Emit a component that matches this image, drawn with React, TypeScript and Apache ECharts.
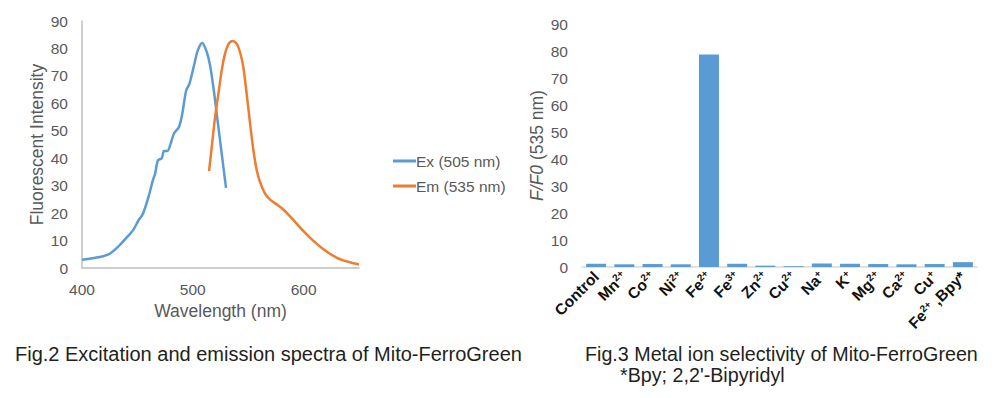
import React, { useEffect, useRef } from "react";
import * as echarts from "echarts";

// Fig.2 spectra
const exWavelength = [400, 416, 425, 434, 440, 446, 451, 455, 460, 464, 466, 468.5, 472, 474, 477, 480, 483, 487.5, 490.5, 494, 497, 501.5, 504.5, 508.5, 512.6, 515.6, 518.6, 521.6, 524.6, 527.6, 530];
const exIntensity = [3.0, 4.0, 5.2, 8.3, 11, 13.7, 17.4, 19.8, 25.9, 32, 34.4, 39.2, 40, 42.6, 42.6, 45.3, 49, 51.4, 56.2, 64.7, 67.2, 74.5, 79.3, 82, 78.7, 73.8, 65.8, 56.2, 46.5, 36.8, 29.2];
const emWavelength = [514.7, 517.1, 520.1, 523.1, 526.1, 529.1, 532.1, 535.7, 539.6, 542.6, 545.6, 548.6, 551.7, 554.7, 557.7, 560.7, 565.2, 569.7, 575.7, 581.7, 587.7, 593.7, 599.7, 605.7, 611.7, 617.7, 623.7, 629.7, 635.7, 641.7, 650];
const emIntensity = [35.3, 44.1, 55, 63.5, 72, 78.1, 81.5, 82.7, 81.7, 78.7, 73.2, 63.5, 52.6, 42.9, 35.6, 31.3, 27.1, 24.9, 23.2, 21.3, 18.8, 16.2, 13.5, 11.1, 8.9, 6.9, 5.2, 3.8, 2.8, 2.1, 1.3];
const seriesNames = ["Ex (505 nm)", "Em (535 nm)"];

// Fig.3 selectivity
const ions = ["Control", "Mn2+", "Co2+", "Ni2+", "Fe2+", "Fe3+", "Zn2+", "Cu2+", "Na+", "K+", "Mg2+", "Ca2+", "Cu+", "Fe2+ ,Bpy*"];
const ratio = [1.2, 1.0, 1.1, 1.0, 78.7, 1.2, 0.5, 0.3, 1.3, 1.2, 1.1, 1.0, 1.1, 1.8];

const caption2 = "Fig.2 Excitation and emission spectra of Mito-FerroGreen";
const caption3a = "Fig.3 Metal ion selectivity of Mito-FerroGreen";
const caption3b = "*Bpy; 2,2'-Bipyridyl";

const FONT = "'Liberation Sans', Arial, sans-serif";
const GRAY = "#595959";

export default function App() {
  const ref = useRef<HTMLDivElement>(null);
  useEffect(() => {
    if (!ref.current) return;
    const chart = echarts.init(ref.current, null, { renderer: "svg" });
    const ex = exWavelength.map((x, i) => [x, exIntensity[i]]);
    const em = emWavelength.map((x, i) => [x, emIntensity[i]]);
    const ionFormatter = (v: string) => {
      const m = v.match(/^([A-Za-z]+)(\d*\+)?(.*)$/);
      if (!m) return `{b|${v}}`;
      return `{b|${m[1]}}` + (m[2] ? `{s|${m[2]}}` : "") + (m[3] ? `{b|${m[3]}}` : "");
    };
    chart.setOption({
      animation: false,
      backgroundColor: "#ffffff",
      textStyle: { fontFamily: FONT },
      legend: {
        left: 388,
        top: 148,
        orient: "vertical",
        itemWidth: 23,
        itemHeight: 3,
        itemGap: 9,
        icon: "rect",
        data: seriesNames,
        textStyle: { color: GRAY, fontSize: 15.5, fontFamily: FONT, padding: [0, 0, 0, -5] },
      },
      grid: [
        { left: 82, top: 21, width: 277, height: 247 },
        { left: 582, top: 24, width: 395, height: 243 },
      ],
      xAxis: [
        {
          gridIndex: 0,
          type: "value",
          min: 400,
          max: 650,
          interval: 100,
          name: "Wavelength (nm)",
          nameLocation: "middle",
          nameGap: 33,
          nameTextStyle: { color: GRAY, fontSize: 17.5, fontFamily: FONT },
          axisLine: { show: true, lineStyle: { color: "#bfbfbf", width: 1.5 } },
          axisTick: { show: false },
          splitLine: { show: false },
          axisLabel: {
            color: GRAY,
            fontSize: 15.5,
            margin: 13,
            formatter: (v: number) => (v % 100 === 0 ? String(v) : ""),
          },
        },
        {
          gridIndex: 1,
          type: "category",
          data: ions,
          axisLine: { show: true, lineStyle: { color: "#d9d9d9", width: 1.5 } },
          axisTick: { show: false },
          axisLabel: {
            interval: 0,
            rotate: 45,
            margin: 7,
            formatter: ionFormatter,
            rich: {
              b: { fontSize: 15.5, fontWeight: "bold", color: "#111", fontFamily: FONT, lineHeight: 17 },
              s: { fontSize: 10, fontWeight: "bold", color: "#111", fontFamily: FONT, verticalAlign: "top", lineHeight: 17 },
            },
          },
        },
      ],
      yAxis: [
        {
          gridIndex: 0,
          type: "value",
          min: 0,
          max: 90,
          interval: 10,
          name: "Fluorescent Intensity",
          nameLocation: "middle",
          nameGap: 36,
          nameTextStyle: { color: GRAY, fontSize: 17.5, fontFamily: FONT },
          axisLine: { show: true, lineStyle: { color: "#bfbfbf", width: 1.5 } },
          axisTick: { show: false },
          splitLine: { show: false },
          axisLabel: { color: GRAY, fontSize: 15.5, margin: 14 },
        },
        {
          gridIndex: 1,
          type: "value",
          min: 0,
          max: 90,
          interval: 10,
          name: "{i|F/F0} (535 nm)",
          nameLocation: "middle",
          nameGap: 36,
          nameTextStyle: {
            color: GRAY,
            fontSize: 17.5,
            fontFamily: FONT,
            rich: { i: { fontStyle: "italic", color: GRAY, fontSize: 17.5, fontFamily: FONT } },
          },
          axisLine: { show: false },
          axisTick: { show: false },
          splitLine: { show: false },
          axisLabel: { color: GRAY, fontSize: 15.5, margin: 14 },
        },
      ],
      series: [
        {
          name: seriesNames[0],
          type: "line",
          xAxisIndex: 0,
          yAxisIndex: 0,
          data: ex,
          smooth: 0.3,
          showSymbol: false,
          symbol: "none",
          color: "#5b9bd5",
          lineStyle: { color: "#5b9bd5", width: 2.5 },
        },
        {
          name: seriesNames[1],
          type: "line",
          xAxisIndex: 0,
          yAxisIndex: 0,
          data: em,
          smooth: 0.3,
          showSymbol: false,
          symbol: "none",
          color: "#ed7d31",
          lineStyle: { color: "#ed7d31", width: 2.5 },
        },
        {
          type: "bar",
          xAxisIndex: 1,
          yAxisIndex: 1,
          data: ratio,
          barWidth: 20,
          itemStyle: { color: "#5b9bd5" },
        },
      ],
      graphic: [
        {
          type: "text",
          x: 15,
          y: 354,
          style: { text: caption2, fontSize: 20, fontFamily: FONT, fill: "#231f20", verticalAlign: "middle" },
        },
        {
          type: "text",
          x: 585,
          y: 354,
          style: { text: caption3a, fontSize: 19.7, fontFamily: FONT, fill: "#231f20", verticalAlign: "middle" },
        },
        {
          type: "text",
          x: 620,
          y: 375,
          style: { text: caption3b, fontSize: 19.7, fontFamily: FONT, fill: "#231f20", verticalAlign: "middle" },
        },
      ],
    });
    return () => chart.dispose();
  }, []);
  return (
    <div
      ref={ref}
      style={{ position: "fixed", left: 0, top: 0, width: 1000, height: 398, background: "#fff" }}
    />
  );
}
